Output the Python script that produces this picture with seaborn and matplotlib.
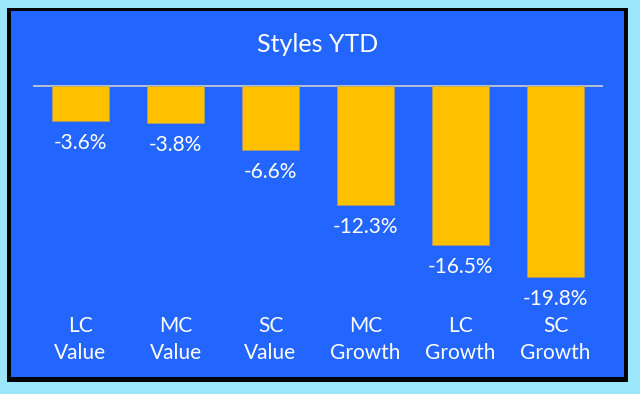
import matplotlib
matplotlib.use("Agg")
import matplotlib.pyplot as plt
import seaborn as sns
import pandas as pd
from matplotlib.patches import Rectangle

categories = ["LC\nValue", "MC\nValue", "SC\nValue", "MC\nGrowth", "LC\nGrowth", "SC\nGrowth"]
values = [-3.6, -3.8, -6.6, -12.3, -16.5, -19.8]
title = "Styles YTD"

df = pd.DataFrame({"cat": categories, "val": values})

sns.set_theme(style="white")
plt.rcParams["font.family"] = ["Lato", "DejaVu Sans"]

W, H = 640, 394
fig = plt.figure(figsize=(6.4, 3.94), dpi=100, facecolor="#9BE6F8")

# frame: black border and blue panel (figure pixel coords)
def fr(x0, y0, x1, y1):
    return (x0 / W, 1 - y1 / H, (x1 - x0) / W, (y1 - y0) / H)

bx = fr(7, 8, 628, 382)
fig.patches.append(Rectangle(bx[:2], bx[2], bx[3], transform=fig.transFigure,
                             facecolor="black", edgecolor="none", zorder=-10))
ix = fr(11, 11, 624, 377)
fig.patches.append(Rectangle(ix[:2], ix[2], ix[3], transform=fig.transFigure,
                             facecolor="#2266FF", edgecolor="none", zorder=-9))

# axes: x 33..603, y 20..376 px ; zero at 86 px, 9.64 px per %
ax_top, ax_bot = 20, 376
ax = fig.add_axes(fr(33, ax_top, 603, ax_bot))
ax.set_zorder(5)
ax.set_facecolor("none")
ax.patch.set_alpha(0)
scale = 9.64
zero_px = 86

sns.barplot(data=df, x="cat", y="val", color="#FFC000", width=0.6,
            edgecolor="#B8A060", linewidth=0.4, saturation=1, ax=ax)
ax.set_xlim(-0.5, len(categories) - 0.5)
ax.set_ylim(-(ax_bot - zero_px) / scale, (zero_px - ax_top) / scale)
ax.axhline(0, color="#D0D0D0", linewidth=1.2, zorder=0.5)

for i, v in enumerate(values):
    ax.text(i, v - 22 / scale, f"{v:.1f}%", ha="center", va="center",
            color="white", fontsize=15)
    ax.text(i, -(339.5 - zero_px) / scale, categories[i], ha="center", va="center",
            color="white", fontsize=15, linespacing=1.4)

for s in ax.spines.values():
    s.set_visible(False)
ax.set_xticks([])
ax.set_yticks([])
ax.set_xlabel("")
ax.set_ylabel("")

fig.text(317.5 / W, 1 - 44 / H, title, ha="center", va="center", color="white", fontsize=18)

fig.savefig("out.png", dpi=100, facecolor=fig.get_facecolor())
